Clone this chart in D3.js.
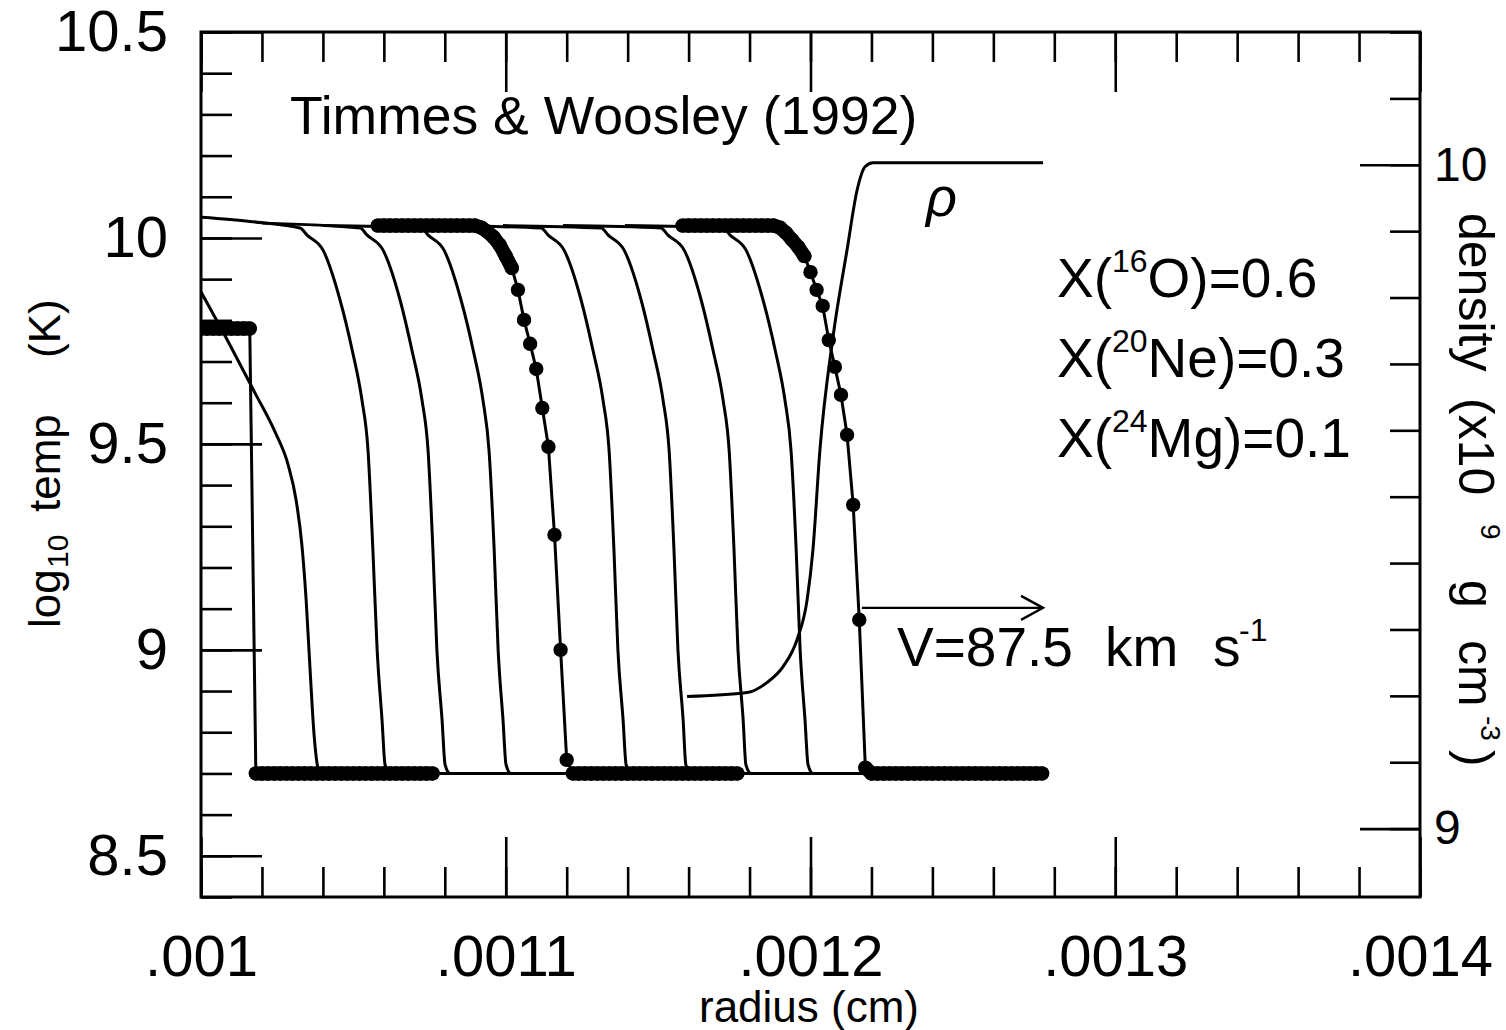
<!DOCTYPE html>
<html>
<head>
<meta charset="utf-8">
<script src="https://cdn.jsdelivr.net/npm/d3@7"></script>
<style>
  body { margin: 0; background: #fff; }
  text { fill: #000; }
</style>
</head>
<body>
<svg id="chart" width="1506" height="1030"></svg>
<script>
// ---- data (radius in cm, temperature as log10 T, density in 1e9 g/cm^3) ----
var xMajor = [0.001, 0.0011, 0.0012, 0.0013, 0.0014];
var xTickLabels = [".001", ".0011", ".0012", ".0013", ".0014"];
var yMajor = [8.5, 9, 9.5, 10, 10.5];
var yTickLabels = ["8.5", "9", "9.5", "10", "10.5"];
var rhoMajor = [9, 10];
var rhoTickLabels = ["9", "10"];

// thin temperature profiles [radius, log10 T]
var prof1 = [[0.0010000,9.869],[0.0010095,9.740],[0.0010177,9.624],[0.0010243,9.529],[0.0010286,9.449],[0.0010312,9.364],[0.0010331,9.255],[0.0010345,9.121],[0.0010358,8.951],[0.0010371,8.794],[0.0010384,8.714],[0.0010400,8.700],[0.0010962,8.700]];
var prof2 = [[0.0010003,10.05],[0.0010161,10.04],[0.0010325,10.024],[0.0010348,10.007],[0.0010400,9.971],[0.0010456,9.850],[0.0010496,9.728],[0.0010528,9.607],[0.0010548,9.485],[0.0010564,9.243],[0.0010578,9.000],[0.0010594,8.830],[0.0010604,8.721],[0.0010620,8.700],[0.0011191,8.700]];
var prof3 = [[0.0010200,10.036],[0.0010522,10.024],[0.0010545,10.007],[0.0010597,9.971],[0.0010653,9.850],[0.0010692,9.728],[0.0010725,9.607],[0.0010745,9.485],[0.0010761,9.243],[0.0010774,9.000],[0.0010791,8.830],[0.0010801,8.721],[0.0010817,8.700],[0.0011388,8.700]];
var prof4 = [[0.0010400,10.03],[0.0010722,10.024],[0.0010745,10.007],[0.0010797,9.971],[0.0010853,9.850],[0.0010893,9.728],[0.0010925,9.607],[0.0010945,9.485],[0.0010962,9.243],[0.0010975,9.000],[0.0010991,8.830],[0.0011001,8.721],[0.0011017,8.700],[0.0011588,8.700]];
var prof5 = [[0.0010794,10.03],[0.0011116,10.024],[0.0011139,10.007],[0.0011191,9.971],[0.0011247,9.850],[0.0011286,9.728],[0.0011319,9.607],[0.0011339,9.485],[0.0011355,9.243],[0.0011368,9.000],[0.0011385,8.830],[0.0011395,8.721],[0.0011411,8.700],[0.0011982,8.700]];
var prof6 = [[0.0010991,10.03],[0.0011313,10.024],[0.0011336,10.007],[0.0011388,9.971],[0.0011444,9.850],[0.0011483,9.728],[0.0011516,9.607],[0.0011536,9.485],[0.0011552,9.243],[0.0011565,9.000],[0.0011582,8.830],[0.0011591,8.721],[0.0011608,8.700],[0.0012179,8.700]];
var prof7 = [[0.0011188,10.03],[0.0011509,10.024],[0.0011532,10.007],[0.0011585,9.971],[0.0011641,9.850],[0.0011680,9.728],[0.0011713,9.607],[0.0011733,9.485],[0.0011749,9.243],[0.0011762,9.000],[0.0011779,8.830],[0.0011788,8.721],[0.0011805,8.700],[0.0012376,8.700]];
var prof8 = [[0.0011391,10.03],[0.0011713,10.024],[0.0011736,10.007],[0.0011788,9.971],[0.0011844,9.850],[0.0011884,9.728],[0.0011916,9.607],[0.0011936,9.485],[0.0011953,9.243],[0.0011966,9.000],[0.0011982,8.830],[0.0011992,8.721],[0.0012008,8.700],[0.0012579,8.700]];

// profiles drawn with every zone marked: zone centres start at meshStart, spaced meshStep
var meshStep = 0.000002;
var zoned1Start = 0.000996;
var zoned1T = [9.78,9.78,9.78,9.78,9.78,9.78,9.78,9.78,9.78,9.78,9.78,
  8.70,8.70,8.70,8.70,8.70,8.70,8.70,8.70,8.70,8.70,8.70,8.70,8.70,8.70,8.70,
  8.70,8.70,8.70,8.70,8.70,8.70,8.70,8.70,8.70,8.70,8.70,8.70,8.70,8.70,8.70];
var zoned2Start = 0.001058;
var zoned2T = [10.03,10.03,10.03,10.03,10.03,10.03,10.03,10.03,10.03,10.03,10.03,10.03,10.03,10.03,10.03,10.03,10.03,
  10.025,10.015,10.002,9.983,9.956,9.927,9.874,9.801,9.743,9.682,9.587,9.493,9.279,9.0,8.733,
  8.70,8.70,8.70,8.70,8.70,8.70,8.70,8.70,8.70,8.70,8.70,8.70,8.70,8.70,
  8.70,8.70,8.70,8.70,8.70,8.70,8.70,8.70,8.70,8.70,8.70,8.70,8.70,8.70];
var zoned3Start = 0.001158;
var zoned3T = [10.03,10.03,10.03,10.03,10.03,10.03,10.03,10.03,10.03,10.03,10.03,10.03,10.03,10.03,10.03,10.03,
  10.025,10.012,9.995,9.978,9.956,9.917,9.874,9.835,9.752,9.687,9.619,9.522,9.352,9.073,8.714,
  8.70,8.70,8.70,8.70,8.70,8.70,8.70,8.70,8.70,8.70,8.70,8.70,8.70,8.70,8.70,
  8.70,8.70,8.70,8.70,8.70,8.70,8.70,8.70,8.70,8.70,8.70,8.70,8.70,8.70];

// density profile [radius, density (1e9 g cm^-3)]
var rhoProfile = [[0.0011595,9.199],[0.0011792,9.205],[0.0011857,9.220],[0.0011910,9.244],[0.0011956,9.285],[0.0011989,9.345],[0.0012008,9.420],[0.0012031,9.571],[0.0012074,9.741],[0.0012120,9.872],[0.0012153,9.962],[0.0012179,9.997],[0.0012205,10.003],[0.0012763,10.003]];

// front speed arrow: from radius to radius at log T
var arrowFrom = [0.0012169, 9.102];
var arrowTo = [0.0012763, 9.102];

var composition = [["16", "O", "0.6"], ["20", "Ne", "0.3"], ["24", "Mg", "0.1"]];

// ---- layout ----
var FONT = "'Liberation Sans', Arial, Helvetica, sans-serif";
var pL = 201, pR = 1420, pT = 32, pB = 897;

var svg = d3.select("#chart");

var x = d3.scaleLinear().domain([0.001, 0.0014]).range([pL, pR]);
var y = d3.scaleLinear().domain([8.4, 10.5]).range([pB, pT]);
var yRho = d3.scaleLinear().domain([8.897, 10.2]).range([pB, pT]);

svg.append("clipPath").attr("id", "plotclip")
  .append("rect").attr("x", pL).attr("y", pT)
  .attr("width", pR - pL).attr("height", pB - pT);

// ---- axes ----
var xMinor = d3.range(0, 21).map(function (i) { return 0.001 + i * 0.00002; });
var yMinor = d3.range(0, 22).map(function (i) { return 8.4 + i * 0.1; });
var rhoMinor = d3.range(0, 13).map(function (i) { return 9.0 + i * 0.1; });

function addAxis(axis, tx, ty, size) {
  var g = svg.append("g")
    .attr("transform", "translate(" + tx + "," + ty + ")")
    .call(axis);
  g.select(".domain").remove();
  g.attr("font-family", FONT).attr("font-size", size || 10);
  g.selectAll("line").attr("stroke", "#000").attr("stroke-width", 2.6);
  return g;
}

addAxis(d3.axisBottom(x).tickValues(xMinor).tickSize(-30).tickFormat(""), 0, pB);
addAxis(d3.axisBottom(x).tickValues(xMajor).tickSize(-60).tickPadding(38)
  .tickFormat(function (d, i) { return xTickLabels[i]; }), 0, pB, 58);
addAxis(d3.axisTop(x).tickValues(xMinor).tickSize(-30).tickFormat(""), 0, pT);
addAxis(d3.axisTop(x).tickValues(xMajor).tickSize(-60).tickFormat(""), 0, pT);

addAxis(d3.axisLeft(y).tickValues(yMinor).tickSize(-31).tickFormat(""), pL, 0);
addAxis(d3.axisLeft(y).tickValues(yMajor).tickSize(-61).tickPadding(33)
  .tickFormat(function (d, i) { return yTickLabels[i]; }), pL, 0, 58);

addAxis(d3.axisRight(yRho).tickValues(rhoMinor).tickSize(-30).tickFormat(""), pR, 0);
addAxis(d3.axisRight(yRho).tickValues(rhoMajor).tickSize(-60).tickPadding(14)
  .tickFormat(function (d, i) { return rhoTickLabels[i]; }), pR, 0, 48);

svg.append("rect")
  .attr("x", pL).attr("y", pT)
  .attr("width", pR - pL).attr("height", pB - pT)
  .attr("fill", "none").attr("stroke", "#000").attr("stroke-width", 3);

// ---- curves ----
var plotG = svg.append("g").attr("clip-path", "url(#plotclip)");

var smooth = d3.line()
  .x(function (d) { return x(d[0]); })
  .y(function (d) { return y(d[1]); })
  .curve(d3.curveMonotoneX);

[prof1, prof2, prof3, prof4, prof5, prof6, prof7, prof8].forEach(function (p) {
  plotG.append("path").datum(p)
    .attr("d", smooth)
    .attr("fill", "none").attr("stroke", "#000")
    .attr("stroke-width", 3).attr("stroke-linejoin", "round");
});

function zoned(start, temps) {
  return temps.map(function (t, i) { return [start + i * meshStep, t]; });
}

var straight = d3.line()
  .x(function (d) { return x(d[0]); })
  .y(function (d) { return y(d[1]); });

[zoned(zoned1Start, zoned1T), zoned(zoned2Start, zoned2T), zoned(zoned3Start, zoned3T)].forEach(function (p) {
  plotG.append("path").datum(p)
    .attr("d", straight)
    .attr("fill", "none").attr("stroke", "#000")
    .attr("stroke-width", 3).attr("stroke-linejoin", "round");
  // where neighbouring zone markers overlap they merge into a solid band
  var pairs = [];
  p.forEach(function (d, i) {
    if (i > 0 && Math.abs(d[1] - p[i - 1][1]) < 0.03) pairs.push([p[i - 1], d]);
  });
  plotG.selectAll(null).data(pairs).enter().append("line")
    .attr("x1", function (d) { return x(d[0][0]); })
    .attr("y1", function (d) { return y(d[0][1]); })
    .attr("x2", function (d) { return x(d[1][0]); })
    .attr("y2", function (d) { return y(d[1][1]); })
    .attr("stroke", "#000").attr("stroke-width", 14).attr("stroke-linecap", "round");
  plotG.selectAll(null).data(p).enter().append("circle")
    .attr("cx", function (d) { return x(d[0]); })
    .attr("cy", function (d) { return y(d[1]); })
    .attr("r", 7.2)
    .attr("fill", "#000");
});

var rhoLine = d3.line()
  .x(function (d) { return x(d[0]); })
  .y(function (d) { return yRho(d[1]); })
  .curve(d3.curveMonotoneX);

plotG.append("path").datum(rhoProfile)
  .attr("d", rhoLine)
  .attr("fill", "none").attr("stroke", "#000")
  .attr("stroke-width", 3).attr("stroke-linejoin", "round");

// arrow
var ax0 = x(arrowFrom[0]), ax1 = x(arrowTo[0]), ay = y(arrowFrom[1]);
svg.append("line").attr("x1", ax0).attr("x2", ax1).attr("y1", ay).attr("y2", ay)
  .attr("stroke", "#000").attr("stroke-width", 2.4);
svg.append("path")
  .attr("d", "M" + (ax1 - 22) + "," + (ay - 12) + "L" + ax1 + "," + ay + "L" + (ax1 - 22) + "," + (ay + 12))
  .attr("fill", "none").attr("stroke", "#000").attr("stroke-width", 2.4);

// ---- text ----
svg.append("text")
  .attr("x", 290).attr("y", 134)
  .attr("font-family", FONT).attr("font-size", 53.5)
  .text("Timmes & Woosley (1992)");

svg.append("text")
  .attr("x", 926).attr("y", 216)
  .attr("font-family", FONT).attr("font-size", 54).attr("font-style", "italic")
  .text("\u03c1");

composition.forEach(function (c, i) {
  var t = svg.append("text")
    .attr("x", 1057).attr("y", 297 + i * 80)
    .attr("font-family", FONT).attr("font-size", 55);
  t.append("tspan").text("X(");
  t.append("tspan").attr("font-size", 32).attr("dy", -25).text(c[0]);
  t.append("tspan").attr("dy", 25).text(c[1] + ")=" + c[2]);
});

// velocity label
var vlab = svg.append("g").attr("font-family", FONT).attr("font-size", 55);
vlab.append("text").attr("x", 897).attr("y", 666).text("V=87.5");
vlab.append("text").attr("x", 1105).attr("y", 666).text("km");
vlab.append("text").attr("x", 1213).attr("y", 666).text("s");
vlab.append("text").attr("x", 1239).attr("y", 641).attr("font-size", 32).text("-1");

// x axis title
svg.append("text")
  .attr("x", 809).attr("y", 1022)
  .attr("text-anchor", "middle")
  .attr("font-family", FONT).attr("font-size", 44)
  .text("radius (cm)");

// left axis title (reads bottom to top)
var lt = svg.append("g").attr("transform", "translate(60,630) rotate(-90)")
  .attr("font-family", FONT).attr("font-size", 44);
lt.append("text").attr("x", 2).attr("y", 0).text("log");
lt.append("text").attr("x", 62).attr("y", 8).attr("font-size", 30).text("10");
lt.append("text").attr("x", 118).attr("y", 0).text("temp");
lt.append("text").attr("x", 272).attr("y", 0).text("(K)");

// right axis title (reads top to bottom)
var rt = svg.append("g").attr("transform", "translate(1459,0) rotate(90)")
  .attr("font-family", FONT).attr("font-size", 50);
rt.append("text").attr("x", 213).attr("y", 0).text("density");
rt.append("text").attr("x", 398).attr("y", 0).text("(x10");
rt.append("text").attr("x", 524).attr("y", -22).attr("font-size", 28).text("9");
rt.append("text").attr("x", 580).attr("y", 0).text("g");
rt.append("text").attr("x", 640).attr("y", 0).text("cm");
rt.append("text").attr("x", 716).attr("y", -22).attr("font-size", 28).text("-3");
rt.append("text").attr("x", 750).attr("y", 0).text(")");
</script>
</body>
</html>
